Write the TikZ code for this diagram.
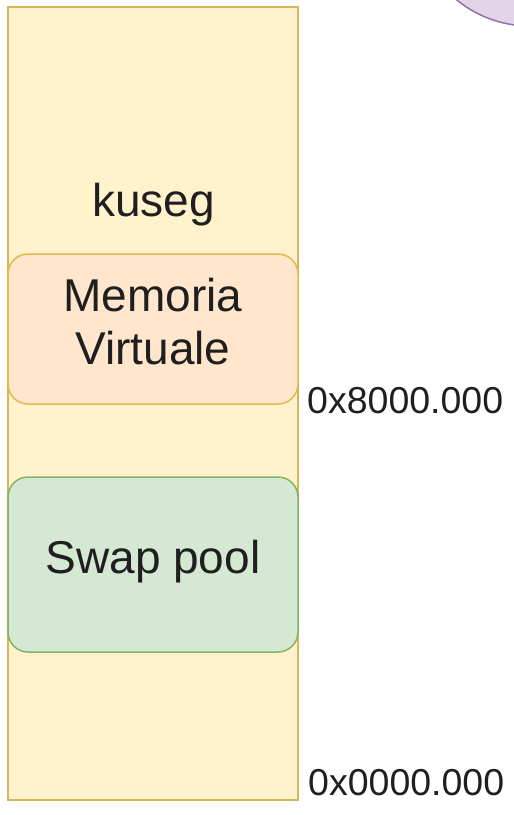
\documentclass[tikz,border=0pt]{standalone}
\usepackage{fontspec}
\setmainfont{Liberation Sans}
\definecolor{memfill}{HTML}{FFF2CC}
\definecolor{memline}{HTML}{D6B656}
\definecolor{vfill}{HTML}{FFE6CC}
\definecolor{vline}{HTML}{D79B00}
\definecolor{sfill}{HTML}{D5E8D4}
\definecolor{sline}{HTML}{82B366}
\definecolor{pfill}{HTML}{E1D5E7}
\definecolor{pline}{HTML}{9673A6}
\begin{document}
\begin{tikzpicture}[x=1pt,y=-1pt,
  memcol/.style={draw=memline,fill=memfill,line width=1.5pt,minimum width=290pt,minimum height=793pt,inner sep=0pt},
  region/.style={rounded corners=20pt,line width=1.5pt,minimum width=290pt,inner sep=0pt},
  biglabel/.style={font=\fontsize{46}{53}\selectfont,inner sep=0pt,text=black!88},
  addr/.style={font=\fontsize{37.5}{44}\selectfont,inner sep=0pt,anchor=base west,text=black!88}]
\useasboundingbox (0,0) rectangle (514,815);
\begin{scope}
  \clip (0,0) rectangle (514,815);
  \draw[pline,fill=pfill,line width=1.5pt] (530,-90) circle (116);
\end{scope}
\node[memcol] (mem) at (153,403.5) {};
\node[region,draw=vline!70,fill=vfill,minimum height=150pt] (virt) at (153,329) {};
\node[region,draw=sline,fill=sfill,minimum height=175pt] (swap) at (153,564.5) {};
\node[biglabel,anchor=base] (kuseg) at (153.5,216) {kuseg};
\node[biglabel,align=center] (virtlabel) at (153,322) {Memoria\\Virtuale};
\node[biglabel,anchor=base] (swaplabel) at (153,573) {Swap pool};
\node[addr] (a8) at (307,413) {0x8000.000};
\node[addr] (a0) at (308,795) {0x0000.000};
\end{tikzpicture}
\end{document}
